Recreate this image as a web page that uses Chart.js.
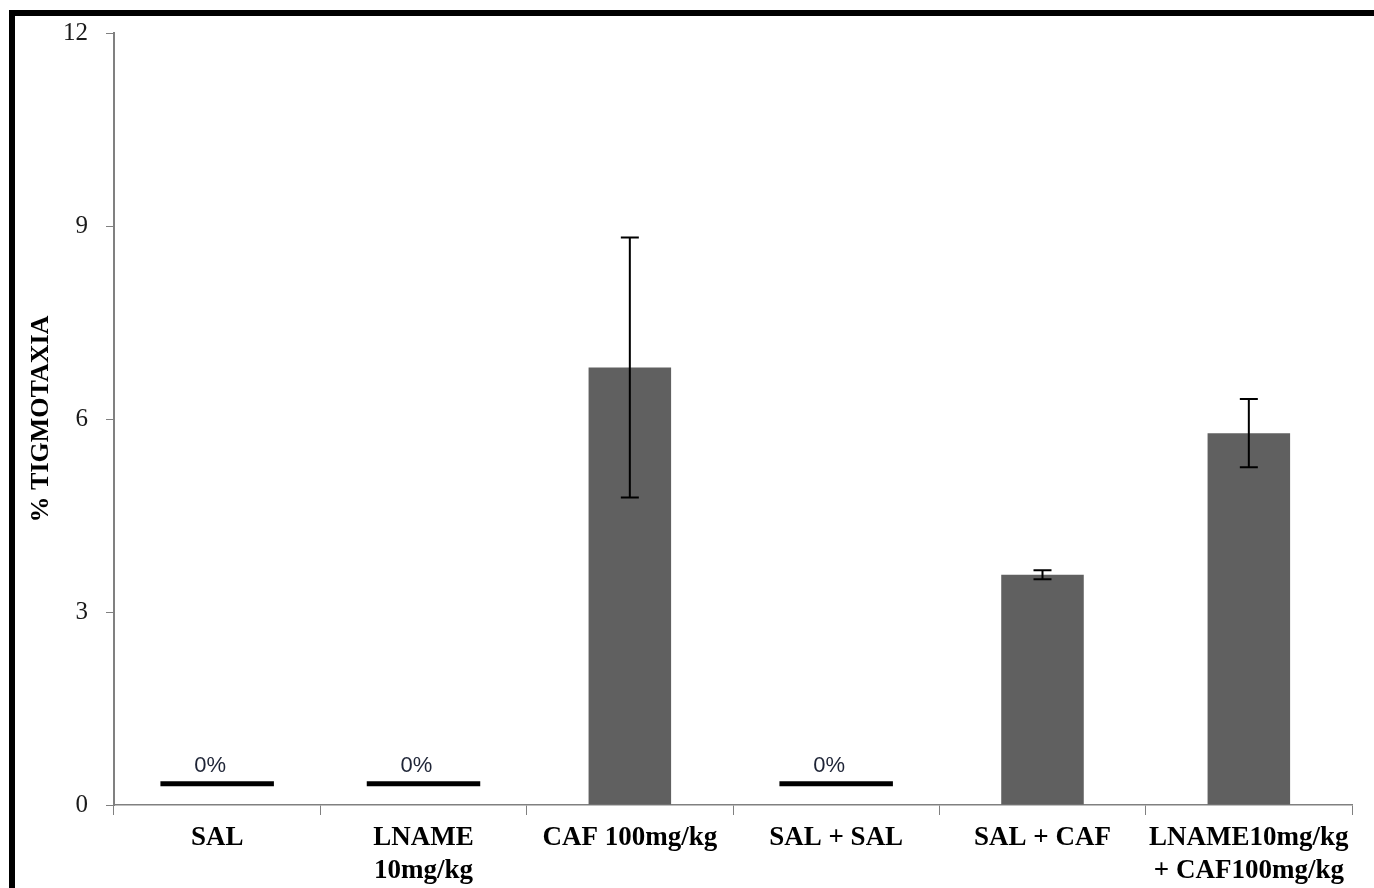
<!DOCTYPE html>
<html>
<head>
<meta charset="utf-8">
<script src="https://cdn.jsdelivr.net/npm/chart.js@4"></script>
<style>
  body { margin: 0; background: #fff; overflow: hidden; }
  #wrap { position: relative; width: 1374px; height: 888px; }
  #frame {
    position: absolute; left: 9px; top: 10px; width: 1400px; height: 900px;
    border: 6px solid #000; pointer-events: none; box-sizing: border-box;
  }
</style>
</head>
<body>
<div id="wrap">
  <canvas id="chart"></canvas>
  <div id="frame"></div>
</div>
<script>
// categories and values
const categories = [
    'SAL',
    ['LNAME', '10mg/kg'],
    'CAF 100mg/kg',
    'SAL + SAL',
    'SAL + CAF',
    ['LNAME10mg/kg', '+ CAF100mg/kg']
];
const tigmotaxia = [0, 0, 6.8, 0, 3.58, 5.78];
const errors = [0, 0, 2.02, 0, 0.07, 0.53];
// black "0%" markers drawn just above the axis
const zeroMarks = [[0.29, 0.37], [0.29, 0.37], null, [0.29, 0.37], null, null];
const zeroLabels = ['0%', '0%', null, '0%', null, null];
const yTicks = [0, 3, 6, 9, 12];

// error bars on the grey bars
const errorBars = {
    id: 'errorBars',
    afterDatasetsDraw(chart) {
        const ctx = chart.ctx;
        const y = chart.scales.y;
        const meta = chart.getDatasetMeta(0);
        ctx.save();
        ctx.strokeStyle = '#000';
        ctx.lineWidth = 2;
        meta.data.forEach((bar, i) => {
            if (!errors[i]) return;
            const top = y.getPixelForValue(tigmotaxia[i] + errors[i]);
            const bot = y.getPixelForValue(tigmotaxia[i] - errors[i]);
            ctx.beginPath();
            ctx.moveTo(bar.x, top);
            ctx.lineTo(bar.x, bot);
            ctx.moveTo(bar.x - 9, top);
            ctx.lineTo(bar.x + 9, top);
            ctx.moveTo(bar.x - 9, bot);
            ctx.lineTo(bar.x + 9, bot);
            ctx.stroke();
        });
        ctx.restore();
    }
};

// "0%" text above the black markers
const zeroText = {
    id: 'zeroText',
    afterDatasetsDraw(chart) {
        const ctx = chart.ctx;
        const meta = chart.getDatasetMeta(1);
        ctx.save();
        ctx.font = '22px "Liberation Sans", Arial, sans-serif';
        ctx.fillStyle = '#1e2436';
        ctx.textAlign = 'center';
        ctx.textBaseline = 'alphabetic';
        meta.data.forEach((bar, i) => {
            if (!zeroLabels[i]) return;
            ctx.fillText(zeroLabels[i], bar.x - 7, bar.y - 9);
        });
        ctx.restore();
    }
};

const ctx = document.getElementById('chart').getContext('2d');
new Chart(ctx, {
    type: 'bar',
    data: {
        labels: categories,
        datasets: [{
            data: tigmotaxia,
            backgroundColor: '#606060',
            grouped: false,
            categoryPercentage: 1,
            barPercentage: 0.4
        }, {
            data: zeroMarks,
            backgroundColor: '#000',
            grouped: false,
            categoryPercentage: 1,
            barPercentage: 0.55
        }]
    },
    options: {
        responsive: true,
        maintainAspectRatio: false,
        animation: false,
        layout: { padding: { top: 33, right: 22, left: 0, bottom: 0 } },
        plugins: {
            legend: { display: false },
            tooltip: { enabled: false }
        },
        scales: {
            x: {
                afterFit: s => { s.height = 83; },
                grid: {
                    drawOnChartArea: false,
                    color: '#808080',
                    tickLength: 10,
                    offset: true
                },
                border: { color: '#808080', width: 1.5 },
                ticks: {
                    color: '#000',
                    autoSkip: false,
                    maxRotation: 0,
                    padding: 6,
                    font: { family: '"Liberation Serif", "Times New Roman", serif', size: 27, weight: 'bold', lineHeight: 1.24 }
                }
            },
            y: {
                min: 0,
                max: 12,
                afterFit: s => { s.width = 114; },
                afterBuildTicks: s => { s.ticks = yTicks.map(v => ({ value: v })); },
                grid: {
                    drawOnChartArea: false,
                    color: '#808080',
                    tickLength: 8
                },
                border: { color: '#808080', width: 2 },
                ticks: {
                    color: '#1a1a1a',
                    padding: 18,
                    font: { family: '"Liberation Serif", "Times New Roman", serif', size: 25 }
                },
                title: {
                    display: true,
                    text: '% TIGMOTAXIA',
                    color: '#000',
                    padding: { top: 26, bottom: 0 },
                    font: { family: '"Liberation Serif", "Times New Roman", serif', size: 26, weight: 'bold' }
                }
            }
        }
    },
    plugins: [errorBars, zeroText]
});
</script>
</body>
</html>
